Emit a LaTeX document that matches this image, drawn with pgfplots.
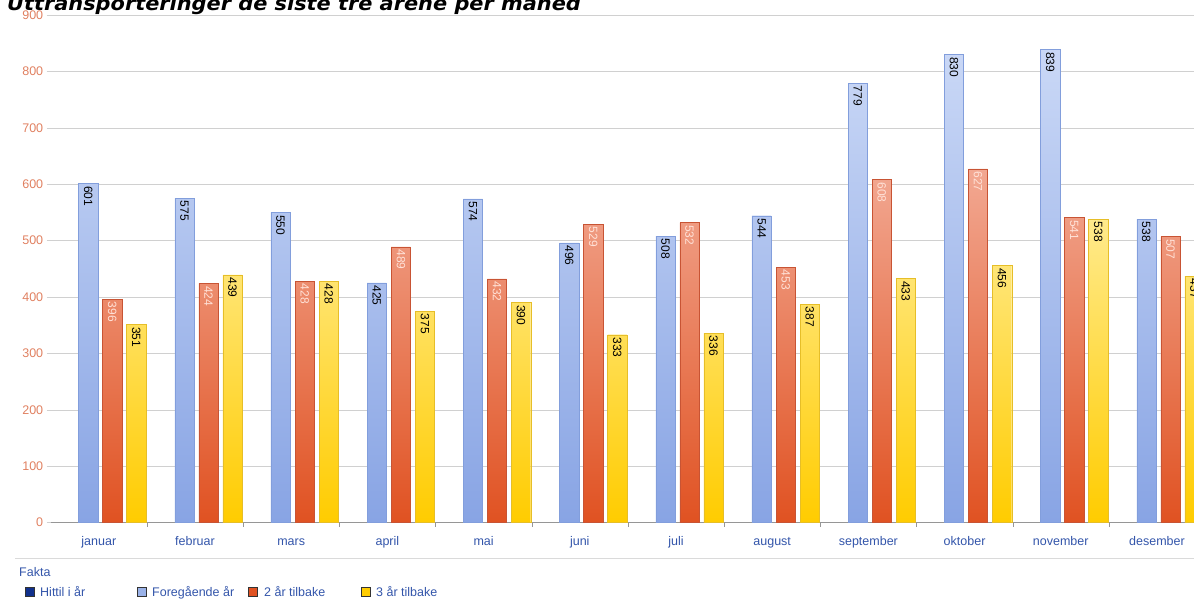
\documentclass[border=0pt]{standalone}
\usepackage{fontspec}
\setmainfont{Liberation Sans}
\newfontfamily\titlefont{DejaVu Sans}
\usepackage{pgfplots}
\pgfplotsset{compat=1.18}

\definecolor{ticktxt}{RGB}{224,128,96}
\definecolor{gridc}{RGB}{208,208,208}
\definecolor{axisc}{RGB}{150,150,150}
\definecolor{cattxt}{RGB}{51,85,170}
\definecolor{bluetop}{RGB}{202,216,246}
\definecolor{bluebot}{RGB}{136,164,228}
\definecolor{bluebd}{RGB}{130,158,220}
\definecolor{redtop}{RGB}{242,168,146}
\definecolor{redbot}{RGB}{224,82,34}
\definecolor{redbd}{RGB}{200,84,52}
\definecolor{yeltop}{RGB}{255,234,140}
\definecolor{yelbot}{RGB}{255,204,0}
\definecolor{yelbd}{RGB}{230,190,40}
\definecolor{navy}{RGB}{16,48,140}
\definecolor{redlbl}{RGB}{255,225,215}

\begin{document}
\begin{tikzpicture}[x=1pt,y=1pt]
\useasboundingbox (0,-599) rectangle (1194,0);

\node[anchor=base west,inner sep=0pt,font=\titlefont\bfseries\itshape\fontsize{19.5}{21}\selectfont]
  at (7,-11) {\scalebox{1.07}[1]{Uttransporteringer de siste tre årene per måned}};

\begin{axis}[
  at={(50.7pt,-522.5pt)}, anchor=south west,
  scale only axis, width=1143.3pt, height=507.5pt,
  xmin=-0.5, xmax=11.385, ymin=0, ymax=900,
  axis x line*=bottom, axis y line*=left,
  y axis line style={draw=none},
  x axis line style={draw=axisc},
  ytick={0,100,...,900},
  ymajorgrids, grid style={gridc},
  ytick align=outside, xtick align=outside,
  major tick length=4pt,
  y tick style={draw=gridc},
  x tick style={draw=axisc},
  yticklabel style={font=\fontsize{12.5}{14}\selectfont, text=ticktxt},
  /pgf/number format/assume math mode=true,
  xtick={0.5,1.5,...,10.5}, xticklabels={},
  extra x ticks={0,1,...,11},
  extra x tick labels={januar,februar,mars,april,mai,juni,juli,august,september,oktober,november,desember},
  extra x tick style={major tick length=0pt, grid=none,
    xticklabel style={font=\fontsize{12.5}{14}\selectfont, text=cattxt, anchor=base, yshift=-23pt}},
  bar width=0.2,
  every node near coord/.append style={font=\fontsize{12}{14}\selectfont, inner sep=2.5pt},
]
\addplot[ybar, bar shift=-0.11, draw=bluebd, top color=bluetop, bottom color=bluebot,
  nodes near coords, nodes near coords align={west},
  nodes near coords style={text=black, xshift=-10.6pt, rotate=-90, anchor=west}]
coordinates {(0,601) (1,575) (2,550) (3,425) (4,574) (5,496) (6,508) (7,544) (8,779) (9,830) (10,839) (11,538)};
\addplot[ybar, bar shift=0.14, draw=redbd, top color=redtop, bottom color=redbot,
  nodes near coords, nodes near coords align={west},
  nodes near coords style={text=redlbl, xshift=13.5pt, rotate=-90, anchor=west}]
coordinates {(0,396) (1,424) (2,428) (3,489) (4,432) (5,529) (6,532) (7,453) (8,608) (9,627) (10,541) (11,507)};
\addplot[ybar, bar shift=0.39, draw=yelbd, top color=yeltop, bottom color=yelbot,
  nodes near coords, nodes near coords align={west},
  nodes near coords style={text=black, xshift=37.5pt, rotate=-90, anchor=west}]
coordinates {(0,351) (1,439) (2,428) (3,375) (4,390) (5,333) (6,336) (7,387) (8,433) (9,456) (10,538) (11,437)};
\end{axis}

\draw[gridc!80] (15,-558) -- (1194,-558);
\node[anchor=base west,inner sep=0pt,font=\fontsize{12.5}{14}\selectfont,text=cattxt] at (19,-576) {Fakta};
\begin{scope}[font=\fontsize{12.5}{14}\selectfont]
\filldraw[fill=navy,draw=black!80] (25,-596) rectangle (34,-587);
\node[anchor=base west,inner sep=0pt,text=cattxt] at (40,-596) {Hittil i år};
\filldraw[fill=bluebot!85!white,draw=black!80] (137,-596) rectangle (146,-587);
\node[anchor=base west,inner sep=0pt,text=cattxt] at (152,-596) {Foregående år};
\filldraw[fill=redbot,draw=black!80] (248,-596) rectangle (257,-587);
\node[anchor=base west,inner sep=0pt,text=cattxt] at (264,-596) {2 år tilbake};
\filldraw[fill=yelbot,draw=black!80] (361,-596) rectangle (370,-587);
\node[anchor=base west,inner sep=0pt,text=cattxt] at (376,-596) {3 år tilbake};
\end{scope}
\end{tikzpicture}
\end{document}
